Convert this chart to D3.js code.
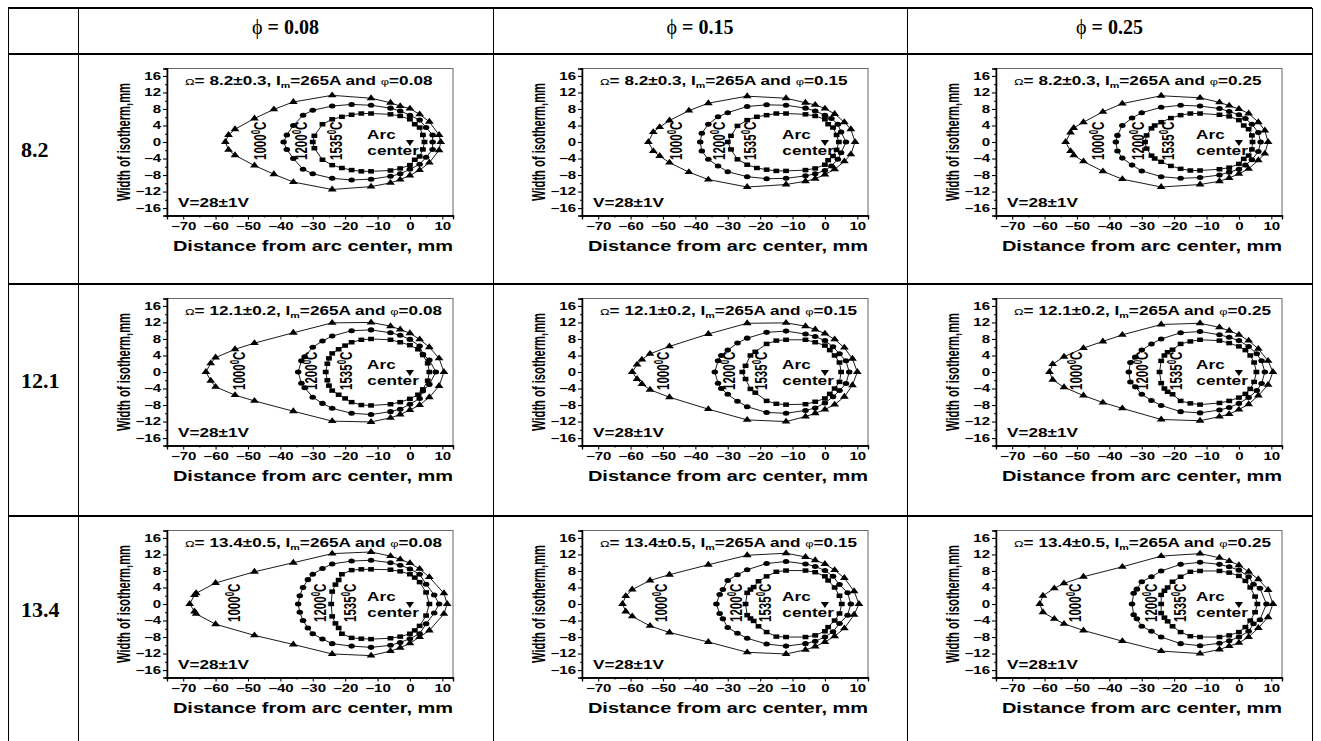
<!DOCTYPE html>
<html>
<head>
<meta charset="utf-8">
<script src="https://cdn.jsdelivr.net/npm/d3@7"></script>
<style>
  body { margin: 0; background: #fff; }
  svg { display: block; background: #fff; }
</style>
</head>
<body>
<svg id="fig" width="1321" height="741"></svg>
<script>
// ---- data (row-major: omega rows x phi columns) ----
var phis = ["0.08", "0.15", "0.25"];
var omegas = ["8.2", "12.1", "13.4"];
var omegaErr = ["0.3", "0.2", "0.5"];
var xTicks = [-70, -60, -50, -40, -30, -20, -10, 0, 10];
var xMinor = [-65, -55, -45, -35, -25, -15, -5, 5];
var yTicks = [-16, -12, -8, -4, 0, 4, 8, 12, 16];
var yMinor = [-14, -10, -6, -2, 2, 6, 10, 14];

// 1000 C isotherm (triangles), closed loops [x, y] in mm
var iso1000 = [
  [[-57,0],[-56,1.7],[-54,3.1],[-48,5.7],[-42,7.9],[-36,9.7],[-24,11.3],[-12,10.6],[-6,9.5],[-3,8.7],[0,8.1],[3,6.7],[6,4.9],[9,1.7],[9.5,0],[9,-2],[6,-5],[3,-6.8],[0,-8.1],[-3,-9.1],[-6,-9.9],[-12,-10.8],[-24,-11.5],[-36,-9.7],[-42,-7.8],[-48,-5.7],[-54,-3.2],[-56,-1.9]],
  [[-54.5,0],[-53,2.4],[-51,3.6],[-48,5.2],[-42,7.6],[-36,9.4],[-24,11.1],[-12,10.6],[-6,9.5],[-3,9],[0,8.1],[3,6.8],[6,4.8],[8,3.1],[9.3,0],[8,-3],[6,-4.7],[3,-6.6],[0,-7.9],[-3,-8.9],[-6,-9.5],[-12,-10.3],[-24,-10.9],[-36,-9.1],[-42,-7.3],[-48,-5],[-51,-3.4],[-53,-2.2]],
  [[-53.5,0],[-52,2.3],[-51,3.4],[-48,4.8],[-42,7.3],[-36,9.3],[-24,11.2],[-12,10.7],[-6,9.6],[-3,8.8],[0,8],[3,6.9],[6,4.8],[8,2.8],[9,0],[8,-2.8],[6,-4.4],[3,-6.5],[0,-7.7],[-3,-8.7],[-6,-9.5],[-12,-10.3],[-24,-10.9],[-36,-9],[-42,-7.1],[-48,-4.7],[-51,-3.2],[-52,-2.2]],
  [[-63,0],[-61.5,2.1],[-60,3.5],[-54,5.5],[-48,7],[-36,9.5],[-24,11.9],[-12,12],[-6,11.1],[-3,10.3],[0,9.4],[3,7.9],[6,6],[9,3.3],[10.5,0],[9,-3.4],[6,-6.1],[3,-8],[0,-9.2],[-3,-10.3],[-6,-11.1],[-12,-12.1],[-24,-11.9],[-36,-9.5],[-48,-7],[-54,-5.6],[-60,-3.6],[-61.5,-2.1]],
  [[-59.5,0],[-58,1.8],[-56.5,3],[-54,4.4],[-48,6.2],[-36,9.2],[-24,11.8],[-12,11.9],[-6,11.1],[-3,10.3],[0,9.3],[3,7.9],[6,5.9],[8.5,3.2],[10,0],[8.5,-3.2],[6,-6],[3,-7.9],[0,-9.1],[-3,-10],[-6,-10.8],[-12,-12],[-24,-11.6],[-36,-9],[-48,-6.1],[-54,-4.3],[-56.5,-2.9],[-58,-1.7]],
  [[-58.5,0],[-57.5,1.9],[-54,3.7],[-48,5.8],[-42,7.4],[-36,9],[-24,11.5],[-12,11.8],[-6,10.8],[-3,10],[0,9],[3,7.6],[6,5.6],[9,2.7],[10.5,0],[9,-3.1],[6,-5.7],[3,-7.8],[0,-9.1],[-3,-10.2],[-6,-10.8],[-12,-11.8],[-24,-11.5],[-36,-8.8],[-42,-7.4],[-48,-5.7],[-54,-3.7],[-57.5,-1.9]],
  [[-68,0],[-66.5,2.2],[-66,2.6],[-60,5.1],[-48,7.8],[-36,10],[-24,12.2],[-12,12.6],[-6,11.6],[-3,10.8],[0,9.9],[3,8.5],[6,6.5],[10.5,2.6],[11.5,0],[10.5,-2.4],[6,-6.4],[3,-8],[0,-9.5],[-3,-10.6],[-6,-11.4],[-12,-12.5],[-24,-12.1],[-36,-9.8],[-48,-7.6],[-60,-4.9],[-66,-2.4],[-66.5,-1.8]],
  [[-62.5,0],[-61.5,1.9],[-59.5,3.5],[-54,5.7],[-48,7.1],[-36,9.5],[-24,11.8],[-12,12.3],[-6,11.4],[-3,10.6],[0,9.7],[3,8.2],[6,6.3],[9,3.1],[10.5,0],[9,-2.6],[6,-5.9],[3,-7.8],[0,-9.2],[-3,-10.3],[-6,-11.1],[-12,-12.1],[-24,-11.7],[-36,-9.2],[-48,-6.9],[-54,-5.3],[-59.5,-3],[-61.5,-1.8]],
  [[-61.5,0],[-60.5,2],[-57,3.8],[-54,5],[-48,6.6],[-36,9],[-24,11.6],[-12,12.2],[-6,11.2],[-3,10.4],[0,9.4],[3,7.8],[6,6],[9,3.4],[10.5,0],[9,-3.2],[6,-5.8],[3,-8],[0,-9.4],[-3,-10.2],[-6,-11],[-12,-12],[-24,-11.4],[-36,-9],[-48,-6.4],[-54,-4.8],[-57,-3.6],[-60.5,-2]]
];

// 1200 C isotherm (circles)
var iso1200 = [
  [[-39,0],[-38,1.7],[-36,4],[-33,6.5],[-30,7.7],[-24,8.7],[-18,9.1],[-12,8.9],[-6,8.2],[-3,7.5],[0,6.5],[3,5.3],[5,3.5],[7,1.7],[7,0],[7,-1.8],[5,-3.7],[3,-5.4],[0,-6.6],[-3,-7.7],[-6,-8.3],[-12,-9],[-18,-9.2],[-24,-8.8],[-30,-7.7],[-33,-6.6],[-36,-4],[-38,-1.8]],
  [[-38.5,0],[-38,2.1],[-36,4.3],[-33,6.1],[-30,7.1],[-24,8.6],[-18,9],[-12,8.9],[-6,8.2],[-3,7.5],[0,6.5],[2,5.7],[4,4.3],[5,2.4],[6.5,0],[5,-2.6],[4,-4.2],[2,-5.8],[0,-6.9],[-3,-7.7],[-6,-8.2],[-12,-8.8],[-18,-8.9],[-24,-8.4],[-30,-7.2],[-33,-5.8],[-36,-4.2],[-38,-2.2]],
  [[-38,0],[-37.5,1.6],[-36,4],[-33,5.8],[-30,7.1],[-24,8.4],[-18,8.9],[-12,8.7],[-6,8.1],[-3,7.4],[0,6.6],[2,5.7],[4,4.3],[6,2.3],[6.7,0],[6,-2.3],[4,-4.3],[2,-5.6],[0,-6.6],[-3,-7.3],[-6,-8],[-12,-8.6],[-18,-8.8],[-24,-8.4],[-30,-7],[-33,-5.6],[-36,-3.9],[-37.5,-2.2]],
  [[-34.5,0],[-33.5,2.7],[-32.5,3.7],[-30,6],[-27,7.5],[-24,8.7],[-18,10],[-12,10.2],[-6,9.5],[-3,8.9],[0,7.9],[3,6.3],[4,4.3],[6,2.9],[8,0],[6,-3],[4,-4.6],[3,-6.4],[0,-7.8],[-3,-9],[-6,-9.6],[-12,-10.3],[-18,-10],[-24,-8.8],[-27,-7.6],[-30,-6.1],[-32.5,-3.8],[-33.5,-2.7]],
  [[-34,0],[-33,2.7],[-32,4],[-30,5.3],[-27,7],[-24,8.2],[-18,9.6],[-12,9.9],[-6,9.2],[-3,8.6],[0,7.6],[2.5,6.1],[4.5,4.4],[6.5,2.7],[7.5,0],[6.5,-2.8],[4.5,-4.5],[2.5,-6],[0,-7.5],[-3,-8.7],[-6,-9.3],[-12,-10],[-18,-9.8],[-24,-8.4],[-27,-7.1],[-30,-5.4],[-32,-4],[-33,-2.7]],
  [[-34,0],[-33.5,2.3],[-32,3.6],[-30,5.3],[-27,6.8],[-24,8],[-18,9.5],[-12,9.8],[-6,9],[-3,8.4],[0,7.6],[3,6.2],[5.5,4.4],[7,2.7],[8,0],[7,-2.8],[5.5,-4.5],[3,-6.2],[0,-7.6],[-3,-8.6],[-6,-9.2],[-12,-9.9],[-18,-9.6],[-24,-8.1],[-27,-6.9],[-30,-5.4],[-32,-3.6],[-33.5,-2.4]],
  [[-34.5,0],[-34,2],[-33,4],[-31.5,5.9],[-30,7.2],[-27,8.6],[-24,9.7],[-18,10.4],[-12,10.6],[-6,10],[-3,9.4],[0,8.5],[3,7.2],[5,4.8],[7.5,2.2],[9,0],[7.5,-2.2],[5,-4.8],[3,-7.2],[0,-8.4],[-3,-9.3],[-6,-10],[-12,-10.5],[-18,-10.2],[-24,-9.6],[-27,-8.5],[-30,-7.2],[-31.5,-5.8],[-33,-4],[-34,-2]],
  [[-33.5,0],[-32.5,2.3],[-31.5,3.5],[-30,5.7],[-27,7.1],[-24,8.3],[-18,9.8],[-12,10.3],[-6,9.7],[-3,9.1],[0,8.1],[2.5,6.7],[4.5,4.7],[7,2.7],[8,0],[7,-2.7],[4.5,-4.7],[2.5,-6.7],[0,-8],[-3,-9],[-6,-9.6],[-12,-10.2],[-18,-9.7],[-24,-8.3],[-27,-7.1],[-30,-5.7],[-31.5,-3.6],[-32.5,-2.3]],
  [[-33,0],[-32.5,2.6],[-31.5,3.6],[-30,5.4],[-27,6.6],[-24,8],[-18,9.6],[-12,10.1],[-6,9.6],[-3,9],[0,8.2],[3,6.6],[4.5,4.8],[6.5,3.8],[8.5,0],[6.5,-3.8],[4.5,-4.8],[3,-6.6],[0,-8],[-3,-8.9],[-6,-9.5],[-12,-10.1],[-18,-9.6],[-24,-8],[-27,-6.6],[-30,-5.4],[-31.5,-3.6],[-32.5,-2.6]]
];

// 1535 C isotherm (squares)
var iso1535 = [
  [[-30,0],[-29.5,1.5],[-27,4.3],[-24,5.5],[-21,6.1],[-18,6.6],[-15,6.9],[-12,6.9],[-6,6.7],[-3,6.3],[0,5.5],[1.5,4.3],[3,3.5],[4,1.7],[4.5,0],[4,-1.8],[3,-3.5],[1.5,-4.3],[0,-5.6],[-3,-6.4],[-6,-6.9],[-12,-7.1],[-15,-7.1],[-18,-6.8],[-21,-6.3],[-24,-5.6],[-27,-4.3],[-29.5,-1.5]],
  [[-30,0],[-29,1.5],[-27,3.9],[-24,5.3],[-21,6.1],[-18,6.5],[-15,6.9],[-12,6.9],[-6,6.7],[-3,6.3],[0,5.5],[1,4.3],[2.5,3.5],[3.6,1.7],[4.3,0],[3.6,-1.9],[2.5,-3.4],[1,-4.4],[0,-5.5],[-3,-6.4],[-6,-6.8],[-12,-7],[-15,-7],[-18,-6.7],[-21,-6.3],[-24,-5.5],[-27,-4.2],[-29,-1.8]],
  [[-29,0],[-28.5,1.6],[-27,3.3],[-26,4],[-24,4.8],[-21,5.8],[-18,6.5],[-15,6.9],[-12,6.9],[-6,6.6],[-3,6.2],[0,5.3],[1.5,4],[3,3.1],[4,1.6],[4.2,0],[4,-1.8],[3,-3.3],[1.5,-4.1],[0,-5.3],[-3,-6.2],[-6,-6.6],[-12,-6.9],[-15,-6.9],[-18,-6.5],[-21,-5.8],[-24,-4.8],[-26,-4],[-27,-3.3],[-28.5,-1.6]],
  [[-26,0],[-25.5,2],[-25,3.3],[-24,4.5],[-22,5.5],[-20,6.4],[-18,7.2],[-15,7.8],[-12,8],[-6,7.8],[-3,7.2],[0,6.5],[2.5,5.5],[4,4.1],[5.5,2.1],[6,0],[5.5,-2.1],[4,-4.2],[2.5,-5.5],[0,-6.5],[-3,-7.3],[-6,-7.8],[-12,-8.1],[-15,-8],[-18,-7.3],[-20,-6.4],[-22,-5.5],[-24,-4.5],[-25,-3.3],[-25.5,-2]],
  [[-25.5,0],[-24.5,1.5],[-23,4],[-21.5,4.9],[-18,6.8],[-15,7.6],[-12,7.8],[-6,7.8],[-3,7.2],[0,6.4],[1.5,5.3],[3,4],[4.5,2.3],[5,0],[4.5,-2.4],[3,-4],[1.5,-5.3],[0,-6.4],[-3,-7.2],[-6,-7.8],[-12,-7.9],[-15,-7.7],[-18,-7],[-21.5,-5],[-23,-4.1],[-24.5,-1.7]],
  [[-24.5,0],[-24,2.7],[-23,4],[-22,4.8],[-20.5,5.4],[-18,6.8],[-15,7.4],[-12,7.8],[-6,7.6],[-3,7],[0,6.2],[2,5.3],[3.5,4],[4.7,2.3],[5.4,0],[4.7,-2.4],[3.5,-4.1],[2,-5.3],[0,-6.2],[-3,-7],[-6,-7.5],[-12,-7.9],[-15,-7.6],[-18,-7],[-20.5,-5.4],[-22,-4.8],[-23,-4],[-24,-2.7]],
  [[-24.3,0],[-24,3],[-23,4.7],[-22,5.8],[-21,7.2],[-18,8.2],[-15,8.4],[-12,8.4],[-6,8.3],[-3,7.9],[0,7.2],[1.5,6.4],[3,5.3],[5,2.8],[6,0],[5,-2.8],[3,-5.3],[1.5,-6.4],[0,-7.2],[-3,-7.9],[-6,-8.3],[-12,-8.5],[-15,-8.4],[-18,-8.2],[-21,-7.2],[-22,-5.8],[-23,-4.7],[-24,-3]],
  [[-24.5,0],[-24,2.7],[-23,3.5],[-22,4.1],[-20.5,5.5],[-18,6.7],[-15,7.8],[-12,8.1],[-6,8.1],[-3,7.7],[0,6.7],[1,5.7],[3,4],[4.5,2],[5.2,0],[4.5,-2.3],[3,-4],[1,-5.6],[0,-6.6],[-3,-7.6],[-6,-8],[-12,-8],[-15,-7.9],[-18,-6.8],[-20.5,-5.4],[-22,-4.1],[-23,-3.5],[-24,-2.7]],
  [[-24,0],[-24,2.2],[-23,3.2],[-22,4],[-20.5,5.4],[-18,6.6],[-15,7.8],[-12,8],[-6,8],[-3,7.6],[0,6.8],[2,5.6],[3.5,4],[5,1.8],[5.7,0],[5,-2],[3.5,-4],[2,-5.6],[0,-6.8],[-3,-7.6],[-6,-8],[-12,-8],[-15,-7.8],[-18,-6.8],[-20.5,-5.4],[-22,-4.2],[-23,-3.3],[-24,-2.2]]
];

// where the rotated isotherm labels sit (x in mm)
var lab1000X = [-46.2, -45.9, -43.6, -52.8, -50, -50.4, -54.2, -50.5, -50.6];
var lab1200X = [-33.5, -32.7, -31.2, -30.5, -29.6, -30, -27.9, -27.6, -27.1];
var lab1535X = [-22.8, -23, -22, -19.8, -19.9, -19.5, -18.5, -18.4, -18.3];

// ---- layout ----
var SX = 1.43;   // the figure panels are stretched horizontally
var SANS = "'Liberation Sans', Arial, sans-serif";
var SERIF = "'Liberation Serif', 'Times New Roman', serif";
var colX = [8, 78, 493, 907, 1312];
var rowY = [8, 54, 284, 516, 741];
var frame = { dx: 89, dy: 14.5, w: 286, h: 147 };

var svg = d3.select("#fig");
svg.append("rect").attr("width", 1321).attr("height", 741).attr("fill", "#fff");

// table rules
var grid = svg.append("g").attr("stroke", "#000").attr("shape-rendering", "crispEdges");
rowY.slice(0, 4).forEach(function(yy) {
  grid.append("line").attr("x1", colX[0]).attr("x2", colX[4]).attr("y1", yy).attr("y2", yy)
    .attr("stroke-width", 1.5);
});
colX.forEach(function(xx) {
  grid.append("line").attr("x1", xx).attr("x2", xx).attr("y1", rowY[0]).attr("y2", 741)
    .attr("stroke-width", 1);
});

// header
phis.forEach(function(p, c) {
  var h = svg.append("text")
    .attr("x", (colX[c + 1] + colX[c + 2]) / 2)
    .attr("y", 34)
    .attr("text-anchor", "middle")
    .attr("font-family", SERIF)
    .attr("font-weight", "bold")
    .attr("font-size", 20);
  h.append("tspan").attr("font-weight", "normal").text("\u03D5");
  h.append("tspan").text(" = " + p);
});
omegas.forEach(function(o, r) {
  var top = rowY[r + 1], hgt = rowY[r + 2] - top;
  svg.append("text")
    .attr("x", 21)
    .attr("y", top + hgt * 0.415 + 8)
    .attr("font-family", SERIF)
    .attr("font-weight", "bold")
    .attr("font-size", 22)
    .text(o);
});

var symTri = d3.symbol().type(d3.symbolTriangle).size(20)();
var symCir = d3.symbol().type(d3.symbolCircle).size(20)();
var symSq = d3.symbol().type(d3.symbolSquare).size(20)();

function sText(parent, x, y, size, weight) {
  return parent.append("text")
    .attr("transform", "translate(" + x + "," + y + ") scale(" + SX + ",1)")
    .attr("font-family", SANS)
    .attr("font-weight", weight || "bold")
    .attr("font-size", size)
    .attr("fill", "#000");
}

for (var r = 0; r < 3; r++) {
  for (var c = 0; c < 3; c++) {
    drawPanel(r, c, r * 3 + c);
  }
}

function drawPanel(r, c, i) {
  var fx = colX[c + 1] + frame.dx, fy = rowY[r + 1] + frame.dy;
  var x = d3.scaleLinear().domain([-75, 13.3]).range([fx, fx + frame.w]);
  var y = d3.scaleLinear().domain([-17.8, 17.8]).range([fy + frame.h, fy]);
  var g = svg.append("g").attr("class", "panel");

  // frame
  g.append("rect").attr("x", fx).attr("y", fy).attr("width", frame.w).attr("height", frame.h)
    .attr("fill", "none").attr("stroke", "#666").attr("stroke-width", 1);

  var yAxis = g.append("g").attr("transform", "translate(" + fx + ",0)")
    .call(d3.axisLeft(y).tickValues(yTicks).tickSize(4).tickFormat(d3.format("d")));
  g.append("g").attr("transform", "translate(" + fx + ",0)")
    .call(d3.axisLeft(y).tickValues(yMinor).tickSize(2).tickFormat(""));
  var xAxis = g.append("g").attr("transform", "translate(0," + (fy + frame.h) + ")")
    .call(d3.axisBottom(x).tickValues(xTicks).tickSize(4).tickPadding(3).tickFormat(d3.format("d")));
  g.append("g").attr("transform", "translate(0," + (fy + frame.h) + ")")
    .call(d3.axisBottom(x).tickValues(xMinor).tickSize(2).tickFormat(""));
  g.selectAll(".domain").attr("stroke", "#000").attr("stroke-width", 1.3);
  g.selectAll(".tick line").attr("stroke", "#000").attr("stroke-width", 1.1);

  yAxis.selectAll(".tick text")
    .attr("x", 0)
    .attr("transform", "translate(-6,0) scale(" + SX + ",1)")
    .attr("font-family", SANS).attr("font-weight", "bold").attr("font-size", 10.5).attr("fill", "#000");
  xAxis.selectAll(".tick text")
    .attr("transform", "scale(" + SX + ",1)")
    .attr("font-family", SANS).attr("font-weight", "bold").attr("font-size", 10.5).attr("fill", "#000");

  // axis titles
  sText(g, fx + frame.w / 2 + 3, fy + frame.h + 35, 14).attr("text-anchor", "middle")
    .text("Distance from arc center, mm");
  g.append("text")
    .attr("transform", "translate(" + (fx - 37) + "," + (fy + frame.h / 2) + ") scale(1.6,1) rotate(-90)")
    .attr("text-anchor", "middle")
    .attr("font-family", SANS).attr("font-weight", "bold").attr("font-size", 11.2).attr("fill", "#000")
    .text("Width of isotherm,mm");

  // panel title
  var t = sText(g, fx + 18, fy + 16, 12);
  t.append("tspan").attr("font-size", 9).attr("font-weight", "normal").text("\u03A9");
  t.append("tspan").text("= " + omegas[r] + "\u00B1" + omegaErr[r] + ", I");
  t.append("tspan").attr("font-size", 7.5).attr("dy", 3).text("m");
  t.append("tspan").attr("dy", -3).text("=265A and ");
  t.append("tspan").attr("font-size", 9).attr("font-weight", "normal").text("\u03C6");
  t.append("tspan").text("=" + phis[c]);

  sText(g, fx + 11, fy + frame.h - 9, 12).text("V=28\u00B11V");

  // isotherms
  var line = d3.line().x(function(d) { return x(d[0]); }).y(function(d) { return y(d[1]); })
    .curve(d3.curveLinearClosed);
  [[iso1000[i], symTri], [iso1200[i], symCir], [iso1535[i], symSq]].forEach(function(s) {
    g.append("path").attr("d", line(s[0])).attr("fill", "none").attr("stroke", "#000").attr("stroke-width", 0.9);
    g.append("g").selectAll("path").data(s[0]).enter().append("path")
      .attr("d", s[1])
      .attr("transform", function(d) { return "translate(" + x(d[0]) + "," + y(d[1]) + ") scale(1.3,1)"; })
      .attr("fill", "#000");
  });

  // isotherm labels
  [[lab1000X[i], "1000"], [lab1200X[i], "1200"], [lab1535X[i], "1535"]].forEach(function(l) {
    var tl = g.append("text")
      .attr("transform", "translate(" + x(l[0]) + "," + y(0.3) + ") scale(1.5,1) rotate(-90)")
      .attr("text-anchor", "middle")
      .attr("dy", "0.35em")
      .attr("font-family", SANS).attr("font-weight", "bold").attr("font-size", 11.5).attr("fill", "#000");
    tl.append("tspan").text(l[1]);
    tl.append("tspan").attr("font-size", 8).attr("dy", -4).text("0");
    tl.append("tspan").attr("dy", 4).text("C");
  });

  // arc center
  sText(g, x(-8.8), y(0.7), 12).attr("text-anchor", "middle").text("Arc");
  sText(g, x(-5.2), y(-3.1), 12).attr("text-anchor", "middle").text("center");
  g.append("path").attr("d", symTri)
    .attr("transform", "translate(" + x(0) + "," + y(0) + ") rotate(180) scale(1.2,1)")
    .attr("fill", "#000");
}
</script>
</body>
</html>
